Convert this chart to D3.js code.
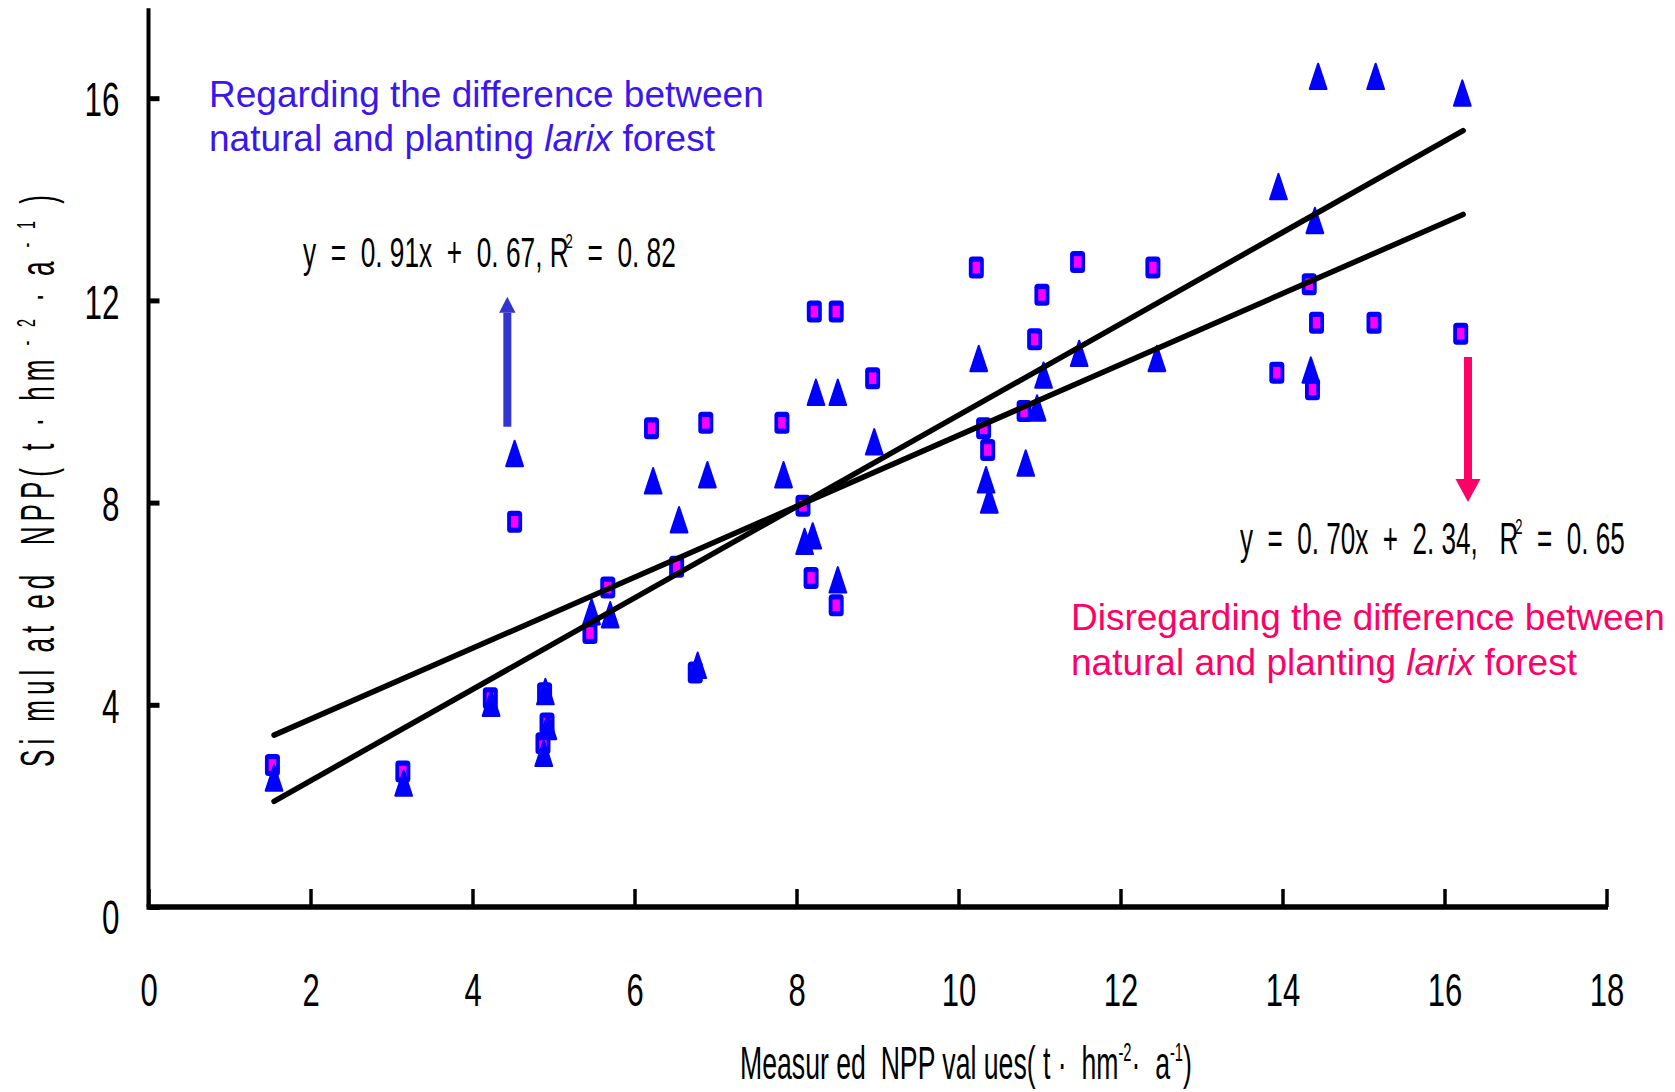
<!DOCTYPE html>
<html>
<head>
<meta charset="utf-8">
<script src="https://cdn.jsdelivr.net/npm/d3@7"></script>
<style>
  body { margin: 0; background: #fff; }
  svg { display: block; }
  text { font-family: "Liberation Sans", Arial, sans-serif; }
</style>
</head>
<body>
<svg id="chart" width="1675" height="1092"></svg>
<script>
// measured NPP (x) vs simulated NPP (y), square markers
const squareX = [1.53, 3.14, 4.22, 4.52, 4.89, 4.92, 4.87, 5.45, 5.67, 6.21, 6.52, 6.75, 6.88, 7.82, 8.08, 8.18, 8.22, 8.49,
                 8.49, 8.94, 10.22, 10.31, 10.36, 10.81, 10.94, 11.03, 11.47, 12.40, 13.93, 14.33, 14.37, 14.42, 15.13, 16.20]
const squareY = [2.81, 2.68, 4.13, 7.62, 4.23, 3.63, 3.24, 5.42, 6.32, 9.47, 6.73, 4.64, 9.58, 9.58, 7.94, 6.51, 11.78, 11.78,
                 5.97, 10.46, 12.65, 9.47, 9.04, 9.81, 11.23, 12.11, 12.76, 12.65, 10.57, 12.32, 10.24, 11.56, 11.56, 11.34]

// triangle markers
const triangleX = [1.55, 3.15, 4.23, 4.52, 4.90, 4.93, 4.88, 5.47, 5.70, 6.23, 6.55, 6.78, 6.90, 7.84, 8.10, 8.20, 8.24, 8.51,
                   8.51, 8.96, 10.25, 10.34, 10.38, 10.83, 10.97, 11.05, 11.49, 12.45, 13.95, 14.40, 14.35, 14.44, 15.15, 16.22]
const triangleY = [2.55, 2.45, 4.03, 8.97, 4.26, 3.57, 3.04, 5.84, 5.78, 8.43, 7.66, 4.78, 8.55, 8.55, 7.23, 7.34, 10.18, 10.18,
                   6.47, 9.20, 10.85, 8.45, 8.05, 8.78, 9.87, 10.52, 10.95, 10.85, 14.25, 13.58, 10.62, 16.43, 16.43, 16.10]

// fitted lines, end points
const lineRegarding = [[1.55, 2.09], [16.23, 15.36]]
const lineDisregarding = [[1.55, 3.40], [16.23, 13.70]]

// arrows [x, from y, to y]
const arrowBlue = [4.43, 9.50, 12.07]
const arrowRed = [16.29, 10.88, 8.01]

const xTicks = [0, 2, 4, 6, 8, 10, 12, 14, 16, 18]
const yTicks = [0, 4, 8, 12, 16]
const yAxisTop = 17.78

const svg = d3.select("#chart")

const x = d3.scaleLinear().domain([0, 18]).range([148.5, 1606.5])
const y = d3.scaleLinear().domain([0, 16]).range([907, 98.2])

// squeeze text horizontally so it fills a given width
function fitText(g, left, base, width, rotated) {
    let bb = g.select("text").node().getBBox()
    let k = width / bb.width
    if (rotated) {
        g.attr("transform", `translate(${left},${base}) rotate(-90) scale(${k},1) translate(${-bb.x},0)`)
    } else {
        g.attr("transform", `translate(${left},${base}) scale(${k},1) translate(${-bb.x},0)`)
    }
}

// y axis
let yAxis = svg.append("g")
    .attr("transform", `translate(${x(0)},0)`)
    .call(d3.axisLeft(y).tickValues(yTicks).tickSize(-11).tickPadding(29).tickFormat(d3.format("d")))
yAxis.attr("font-size", null).attr("font-family", null)
yAxis.select(".domain").remove()
yAxis.selectAll(".tick line").attr("stroke", "#000").attr("stroke-width", 5)
yAxis.selectAll(".tick text").each(function(d) {
    let t = d3.select(this)
    let tx = +t.attr("x")
    let dy = d === 0 ? 9 : 0
    t.attr("x", 0).attr("dy", "0.36em").attr("fill", "#000").style("font-size", "49px")
        .attr("transform", `translate(${tx},${dy}) scale(0.64,1)`)
})

// x axis
let xAxis = svg.append("g")
    .attr("transform", `translate(0,${y(0)})`)
    .call(d3.axisBottom(x).tickValues(xTicks).tickSize(-18).tickPadding(66).tickFormat(d3.format("d")))
xAxis.attr("font-size", null).attr("font-family", null)
xAxis.select(".domain").remove()
xAxis.selectAll(".tick line").attr("stroke", "#000").attr("stroke-width", 3.5)
xAxis.selectAll(".tick text").each(function() {
    let t = d3.select(this)
    let ty = +t.attr("y")
    t.attr("y", 0).attr("fill", "#000").style("font-size", "47px")
        .attr("transform", `translate(0,${ty}) scale(0.66,1)`)
})

// axis lines
svg.append("line")
    .attr("x1", x(0)).attr("x2", x(0))
    .attr("y1", y(0)).attr("y2", y(yAxisTop))
    .attr("stroke", "#000").attr("stroke-width", 4)
svg.append("line")
    .attr("x1", x(0) - 2).attr("x2", x(18) + 1.5)
    .attr("y1", y(0)).attr("y2", y(0))
    .attr("stroke", "#000").attr("stroke-width", 5.5)

// square markers
let squares = svg.append("g").selectAll("g")
    .data(d3.zip(squareX, squareY))
    .join("g")
    .attr("transform", d => `translate(${x(d[0])},${y(d[1])})`)
squares.append("rect")
    .attr("x", -7.5).attr("y", -11).attr("width", 15).attr("height", 22).attr("rx", 3.5)
    .attr("fill", "#0000ff")
squares.append("rect")
    .attr("x", -3.7).attr("y", -5.8).attr("width", 7.4).attr("height", 11.6)
    .attr("fill", "#ff00ff")

// triangle markers
let triPath = d3.line()([[0, -12.8], [8.4, 12.6], [-8.4, 12.6]]) + "Z"
svg.append("g").selectAll("path")
    .data(d3.zip(triangleX, triangleY))
    .join("path")
    .attr("d", triPath)
    .attr("transform", d => `translate(${x(d[0])},${y(d[1])})`)
    .attr("fill", "#0000ff").attr("stroke", "#0000ff")
    .attr("stroke-width", 2).attr("stroke-linejoin", "round")

// regression lines
let line = d3.line().x(d => x(d[0])).y(d => y(d[1]))
svg.append("g").selectAll("path")
    .data([lineRegarding, lineDisregarding])
    .join("path")
    .attr("d", line)
    .attr("fill", "none").attr("stroke", "#000")
    .attr("stroke-width", 5.5).attr("stroke-linecap", "round")

// arrows
function drawArrow(a, color, shaftW, headW, headH) {
    let ax = x(a[0]), y0 = y(a[1]), y1 = y(a[2])
    let dir = y1 < y0 ? 1 : -1
    let headBase = y1 + dir * headH
    svg.append("line")
        .attr("x1", ax).attr("x2", ax).attr("y1", y0).attr("y2", headBase)
        .attr("stroke", color).attr("stroke-width", shaftW)
    svg.append("path")
        .attr("d", d3.line()([[ax, y1], [ax + headW / 2, headBase], [ax - headW / 2, headBase]]) + "Z")
        .attr("fill", color)
}
drawArrow(arrowBlue, "#3434cf", 8, 16.5, 16)
drawArrow(arrowRed, "#ff0066", 8, 25, 23)

// annotations
function twoLines(color, left, base1, base2, first) {
    let g = svg.append("g").attr("fill", color).style("font-size", "37px")
    g.append("text").attr("x", left).attr("y", base1).text(first)
    let t = g.append("text").attr("x", left).attr("y", base2)
    t.append("tspan").text("natural and planting ")
    t.append("tspan").style("font-style", "italic").text("larix")
    t.append("tspan").text(" forest")
}
twoLines("#3a17f0", 209, 107, 151, "Regarding the difference between")
twoLines("#ff0066", 1071, 630, 675, "Disregarding the difference between")

// equations
function equation(parts, left, base, width, size) {
    let g = svg.append("g")
    let t = g.append("text").attr("fill", "#000").style("font-size", size + "px").style("white-space", "pre")
    t.append("tspan").text(parts[0])
    t.append("tspan").attr("dy", -size * 0.45).attr("dx", -size * 0.12).style("font-size", (size * 0.5) + "px").text("2")
    t.append("tspan").attr("dy", size * 0.45).text(parts[1])
    fitText(g, left, base, width, false)
}
equation(["y  =  0. 91x  +  0. 67, R", "  =  0. 82"], 303, 267, 373, 42)
equation(["y  =  0. 70x  +  2. 34,   R", "  =  0. 65"], 1240, 554, 385, 44)

// axis titles
function axisTitle(parts, left, base, width, size, rotated, spacing) {
    let g = svg.append("g")
    let t = g.append("text").attr("fill", "#000").style("font-size", size + "px")
        .style("white-space", "pre").style("letter-spacing", spacing + "px")
    let sup = size * 0.55
    t.append("tspan").text(parts[0])
    t.append("tspan").attr("dy", -size * 0.4).style("font-size", sup + "px").text(parts[1])
    t.append("tspan").attr("dy", size * 0.4).text(parts[2])
    t.append("tspan").attr("dy", -size * 0.4).style("font-size", sup + "px").text(parts[3])
    t.append("tspan").attr("dy", size * 0.4).text(parts[4])
    fitText(g, left, base, width, rotated)
}
axisTitle(["Measur ed  NPP val ues( t ·  hm", "-2", "·  a", "-1", ")"], 740, 1079, 452, 46, false, 0)
axisTitle(["Si mul at ed  NPP( t · hm", " - 2", " · a", " - 1", " )"], 54, 767, 577, 48, true, 9)
</script>
</body>
</html>
